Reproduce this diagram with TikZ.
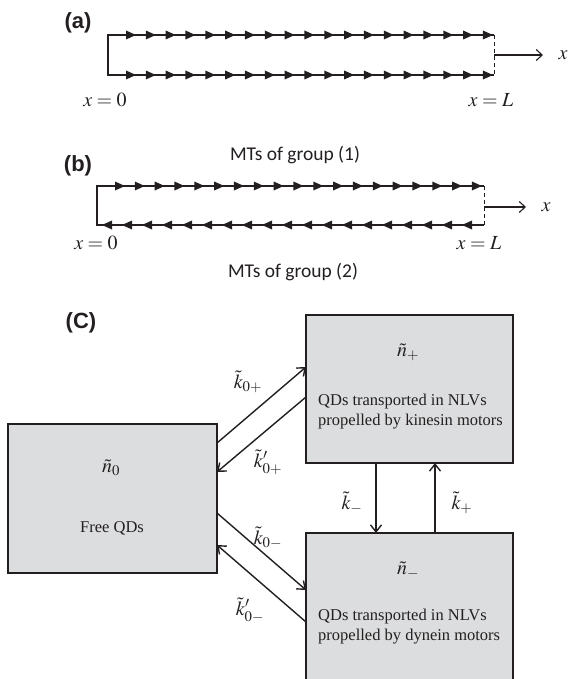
\documentclass[tikz,border=0pt]{standalone}
\usepackage{mathptmx}
\usepackage[no-math]{fontspec}
\setmainfont{Liberation Serif}
\newfontfamily\labfont{Liberation Sans}
\newfontfamily\calfont{Carlito}
\usetikzlibrary{arrows.meta,calc}
\definecolor{ink}{HTML}{231F20}
\definecolor{boxgray}{HTML}{DCDDDE}
\begin{document}
\begin{tikzpicture}[x=1pt,y=-1pt,
  mt/.style={draw=ink, line width=2.4pt, line join=miter},
  tip/.style={fill=ink},
  dashv/.style={draw=ink, line width=1pt, dash pattern=on 4pt off 3pt},
  axis/.style={draw=ink, line width=1.1pt, -{Straight Barb[length=6pt,width=11pt]}},
  boxn/.style={draw=ink, fill=boxgray, line width=1.8pt, rectangle, inner sep=0pt, outer sep=0pt, anchor=north west},
  arr/.style={draw=ink, line width=1.4pt, -{Straight Barb[length=7pt,width=11pt]}},
  mathlbl/.style={text=ink, font=\fontsize{20}{24}\selectfont, inner sep=0pt},
  boxtxt/.style={text=ink, font=\fontsize{16.5}{20}\selectfont, inner sep=0pt, align=left, anchor=west},
  panel/.style={text=ink, font=\labfont\bfseries\fontsize{22}{26}\selectfont, inner sep=0pt},
  grp/.style={text=ink, font=\calfont\fontsize{19.5}{23}\selectfont, inner sep=0pt}]
\path[use as bounding box] (0,0) rectangle (568,679);
\clip (0,0) rectangle (568,679);

% ---------- panel (a)
\node[panel] (la) at (78,23) {(a)};
\coordinate (a1) at (494,35);
\coordinate (a2) at (108,35);
\coordinate (a3) at (108,75);
\coordinate (a4) at (494,75);
\draw[mt] (a1) -- (a2) -- (a3) -- (a4);
\foreach \i in {0,...,18} {
  \fill[tip] ({136+19.83*\i},35) -- ++(-10,-4.5) -- ++(0,9) -- cycle;
  \fill[tip] ({136+19.83*\i},75) -- ++(-10,-4.5) -- ++(0,9) -- cycle;
}
\draw[dashv] (a1) -- (a4);
\coordinate (axs) at (494,55);
\coordinate (axe) at (543,55);
\draw[axis] (axs) -- (axe);
\node[mathlbl] (xa) at (563,55) {$x$};
\node[mathlbl] (x0a) at (105,100) {$x=0$};
\node[mathlbl] (xLa) at (491,100) {$x=L$};

% ---------- panel (b)
\node[panel] (lb) at (78,166) {(b)};
\node[grp] (g1) at (295,155) {MTs of group (1)};
\node[grp] (g2) at (293,272) {MTs of group (2)};
\coordinate (b1) at (484,186);
\coordinate (b2) at (97,186);
\coordinate (b3) at (97,225);
\coordinate (b4) at (484,225);
\draw[mt, line width=2.7pt] (b1) -- (b2) -- (b3) -- (b4);
\foreach \i in {0,...,18} {
  \fill[tip] ({125+19.83*\i},186) -- ++(-10,-4.5) -- ++(0,9) -- cycle;
  \fill[tip] ({102+20*\i},225) -- ++(10,-4.5) -- ++(0,9) -- cycle;
}
\draw[dashv] (b1) -- (b4);
\coordinate (bxs) at (484,207);
\coordinate (bxe) at (526,207);
\draw[axis] (bxs) -- (bxe);
\node[mathlbl] (xb) at (546,207) {$x$};
\node[mathlbl] (x0b) at (96,243) {$x=0$};
\node[mathlbl] (xLb) at (479,243) {$x=L$};

% ---------- panel (C)
\node[panel] (lc) at (81,323) {(C)};
\node[boxn, minimum width=209pt, minimum height=149pt] (n0) at (8,424) {};
\node[boxn, minimum width=207pt, minimum height=148pt] (np) at (306,315) {};
\node[boxn, minimum width=207pt, minimum height=170pt] (nm) at (306,533) {};

\node[mathlbl] (tn0) at (111,468) {$\tilde{n}_0$};
\node[boxtxt, anchor=center] (tf) at (112,528) {Free QDs};
\node[mathlbl] (tnp) at (408,352) {$\tilde{n}_+$};
\node[boxtxt] (tp) at (318,412) {QDs transported in NLVs\\propelled by kinesin motors};
\node[mathlbl] (tnm) at (408,570) {$\tilde{n}_-$};
\node[boxtxt] (tm) at (318,627) {QDs transported in NLVs\\propelled by dynein motors};

% diagonal arrows
\draw[arr] ([yshift=-19pt]n0.north east) -- ([yshift=-52pt]np.north west);
\draw[arr] ([yshift=-82pt]np.north west) -- ([yshift=-48pt]n0.north east);
\draw[arr] ([yshift=-89pt]n0.north east) -- ([yshift=-57pt]nm.north west);
\draw[arr] ([yshift=-89pt]nm.north west) -- ([yshift=-121pt]n0.north east);
\node[mathlbl] (k0p) at (248,382) {$\tilde{k}_{0+}$};
\node[mathlbl] (k0pp) at (268,462) {$\tilde{k}'_{0+}$};
\node[mathlbl] (k0m) at (268,538) {$\tilde{k}_{0-}$};
\node[mathlbl] (k0mp) at (250,610) {$\tilde{k}'_{0-}$};

% vertical arrows
\draw[arr] ([xshift=70pt]np.south west) -- ([xshift=70pt]nm.north west);
\draw[arr] ([xshift=129pt]nm.north west) -- ([xshift=129pt]np.south west);
\node[mathlbl] (km) at (352,503) {$\tilde{k}_-$};
\node[mathlbl] (kp) at (462,503) {$\tilde{k}_+$};
\end{tikzpicture}
\end{document}
